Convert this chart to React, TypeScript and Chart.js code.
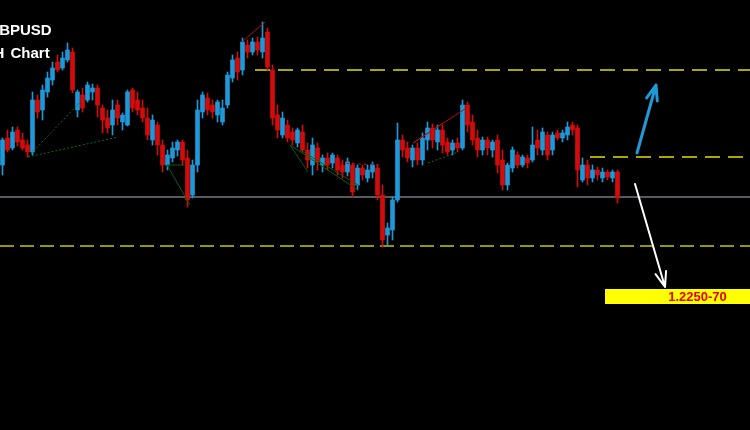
import React, { useEffect, useRef } from "react";
import { Chart, registerables } from "chart.js";

Chart.register(...registerables);

// GBPUSD hourly candles (prices)
const openP = [
  1.2435, 1.2462, 1.2452, 1.2470, 1.2460, 1.2455, 1.2448, 1.2500, 1.2490, 1.2508,
  1.2520, 1.2538, 1.2532, 1.2540, 1.2548, 1.2490, 1.2505, 1.2500, 1.2508, 1.2512,
  1.2492, 1.2482, 1.2475, 1.2495, 1.2478, 1.2475, 1.2510, 1.2500, 1.2492, 1.2482,
  1.2460, 1.2475, 1.2455, 1.2435, 1.2442, 1.2450, 1.2458, 1.2442, 1.2405, 1.2435,
  1.2488, 1.2502, 1.2495, 1.2485, 1.2478, 1.2495, 1.2522, 1.2542, 1.2530, 1.2555,
  1.2548, 1.2558, 1.2548, 1.2568, 1.2530, 1.2485, 1.2465, 1.2475, 1.2468, 1.2457,
  1.2468, 1.2450, 1.2435, 1.2452, 1.2435, 1.2442, 1.2437, 1.2442, 1.2435, 1.2428,
  1.2435, 1.2415, 1.2432, 1.2422, 1.2428, 1.2432, 1.2405, 1.2365, 1.2370, 1.2400,
  1.2460, 1.2452, 1.2440, 1.2452, 1.2440, 1.2460, 1.2472, 1.2458, 1.2470, 1.2458,
  1.2450, 1.2457, 1.2452, 1.2495, 1.2478, 1.2462, 1.2450, 1.2460, 1.2450, 1.2460,
  1.2440, 1.2415, 1.2432, 1.2445, 1.2435, 1.2442, 1.2440, 1.2460, 1.2450, 1.2465,
  1.2450, 1.2467, 1.2462, 1.2465, 1.2475, 1.2472, 1.2420, 1.2435, 1.2422, 1.2430,
  1.2422, 1.2428, 1.2422, 1.2428,
];
const highP = [
  1.2462, 1.2470, 1.2473, 1.2473, 1.2467, 1.2460, 1.2508, 1.2505, 1.2515, 1.2528,
  1.2538, 1.2545, 1.2548, 1.2557, 1.2552, 1.2510, 1.2512, 1.2518, 1.2516, 1.2515,
  1.2495, 1.2490, 1.2500, 1.2500, 1.2487, 1.2510, 1.2512, 1.2508, 1.2500, 1.2492,
  1.2485, 1.2478, 1.2460, 1.2450, 1.2458, 1.2460, 1.2460, 1.2450, 1.2440, 1.2500,
  1.2508, 1.2507, 1.2500, 1.2500, 1.2500, 1.2528, 1.2545, 1.2548, 1.2562, 1.2560,
  1.2562, 1.2563, 1.2578, 1.2572, 1.2535, 1.2495, 1.2488, 1.2480, 1.2472, 1.2472,
  1.2475, 1.2457, 1.2462, 1.2457, 1.2445, 1.2447, 1.2447, 1.2445, 1.2440, 1.2442,
  1.2437, 1.2435, 1.2435, 1.2435, 1.2438, 1.2435, 1.2415, 1.2377, 1.2403, 1.2477,
  1.2465, 1.2458, 1.2455, 1.2457, 1.2467, 1.2478, 1.2476, 1.2475, 1.2475, 1.2462,
  1.2460, 1.2462, 1.2500, 1.2498, 1.2485, 1.2470, 1.2463, 1.2463, 1.2460, 1.2465,
  1.2450, 1.2437, 1.2453, 1.2448, 1.2445, 1.2445, 1.2473, 1.2470, 1.2472, 1.2468,
  1.2468, 1.2470, 1.2470, 1.2478, 1.2478, 1.2475, 1.2442, 1.2440, 1.2435, 1.2433,
  1.2432, 1.2430, 1.2430, 1.2430,
];
const lowP = [
  1.2425, 1.2448, 1.2450, 1.2454, 1.2450, 1.2443, 1.2445, 1.2482, 1.2480, 1.2503,
  1.2515, 1.2528, 1.2530, 1.2538, 1.2507, 1.2483, 1.2488, 1.2498, 1.2500, 1.2483,
  1.2467, 1.2467, 1.2465, 1.2475, 1.2470, 1.2474, 1.2488, 1.2485, 1.2478, 1.2460,
  1.2455, 1.2445, 1.2428, 1.2430, 1.2438, 1.2444, 1.2435, 1.2393, 1.2402, 1.2428,
  1.2482, 1.2485, 1.2482, 1.2478, 1.2475, 1.2492, 1.2518, 1.2520, 1.2525, 1.2542,
  1.2545, 1.2545, 1.2542, 1.2530, 1.2475, 1.2462, 1.2462, 1.2458, 1.2455, 1.2453,
  1.2448, 1.2432, 1.2425, 1.2430, 1.2428, 1.2430, 1.2432, 1.2425, 1.2422, 1.2424,
  1.2403, 1.2410, 1.2420, 1.2418, 1.2422, 1.2400, 1.2353, 1.2355, 1.2360, 1.2398,
  1.2443, 1.2438, 1.2433, 1.2435, 1.2435, 1.2450, 1.2452, 1.2450, 1.2447, 1.2445,
  1.2445, 1.2448, 1.2450, 1.2468, 1.2455, 1.2443, 1.2445, 1.2445, 1.2443, 1.2427,
  1.2410, 1.2410, 1.2428, 1.2432, 1.2433, 1.2432, 1.2438, 1.2445, 1.2445, 1.2440,
  1.2445, 1.2460, 1.2458, 1.2460, 1.2465, 1.2413, 1.2418, 1.2415, 1.2418, 1.2420,
  1.2418, 1.2420, 1.2418, 1.2397,
];
const closeP = [
  1.2460, 1.2450, 1.2468, 1.2458, 1.2452, 1.2448, 1.2500, 1.2488, 1.2510, 1.2522,
  1.2532, 1.2530, 1.2542, 1.2550, 1.2510, 1.2508, 1.2492, 1.2515, 1.2512, 1.2495,
  1.2480, 1.2472, 1.2490, 1.2482, 1.2485, 1.2508, 1.2492, 1.2490, 1.2482, 1.2465,
  1.2480, 1.2455, 1.2435, 1.2445, 1.2452, 1.2458, 1.2440, 1.2400, 1.2435, 1.2490,
  1.2505, 1.2490, 1.2488, 1.2498, 1.2492, 1.2525, 1.2540, 1.2528, 1.2558, 1.2548,
  1.2558, 1.2550, 1.2562, 1.2533, 1.2482, 1.2470, 1.2482, 1.2462, 1.2460, 1.2470,
  1.2450, 1.2440, 1.2455, 1.2438, 1.2442, 1.2435, 1.2445, 1.2430, 1.2428, 1.2438,
  1.2408, 1.2432, 1.2425, 1.2430, 1.2435, 1.2405, 1.2360, 1.2372, 1.2400, 1.2460,
  1.2450, 1.2442, 1.2452, 1.2440, 1.2462, 1.2472, 1.2460, 1.2470, 1.2455, 1.2448,
  1.2457, 1.2452, 1.2495, 1.2475, 1.2460, 1.2450, 1.2460, 1.2452, 1.2458, 1.2435,
  1.2415, 1.2435, 1.2450, 1.2435, 1.2443, 1.2437, 1.2455, 1.2452, 1.2468, 1.2445,
  1.2465, 1.2462, 1.2467, 1.2473, 1.2470, 1.2430, 1.2435, 1.2422, 1.2430, 1.2425,
  1.2428, 1.2423, 1.2428, 1.2402,
];

// horizontal levels
const supportLevel = 1.2403;
const lowerDashLevel = 1.2354;
const upperDashLevel = 1.2530;
const upperDashStart = 50.5;
const midDashLevel = 1.2443;
const midDashStart = 117.5;

// trend lines: [x1, y1, x2, y2]
const greenDotted = [
  [5.1, 1.2443, 15.9, 1.2500],
  [5.1, 1.2443, 23.1, 1.2463],
  [85.1, 1.2437, 91.1, 1.2448],
];
const greenSolid = [
  [32.9, 1.2435, 36.5, 1.2435],
  [32.9, 1.2435, 37.5, 1.2395],
  [57.5, 1.2455, 61.1, 1.2428],
  [57.5, 1.2455, 71.1, 1.2410],
  [59.5, 1.2450, 71.1, 1.2415],
];
const redSolid = [
  [47.9, 1.2558, 52.5, 1.2578],
  [82.1, 1.2457, 93.1, 1.2493],
  [82.1, 1.2457, 88.1, 1.2477],
];
const redDashed = [[67.5, 1.2437, 75.5, 1.2435]];

// forecast arrows: [x1, y1, x2, y2]
const upArrow = [126.9, 1.2447, 130.7, 1.2515];
const downArrow = [126.5, 1.2416, 132.5, 1.2313];

// target box
const targetLabel = "1.2250-70";
const targetBox = [120.5, 1.2311, 149.5, 1.2296];

const titleLine1 = "GBPUSD";
const titleFrame = "4H";
const titleWord = "Chart";

const BLUE = "#1d98d8";
const RED = "#d40b0b";

export default function App() {
  const ref = useRef<HTMLCanvasElement | null>(null);

  useEffect(() => {
    document.body.style.margin = "0";
    document.body.style.background = "#000";
    const canvas = ref.current;
    if (!canvas) return;

    const colors = openP.map((o, i) => (closeP[i] >= o ? BLUE : RED));

    const seg = (s: number[], color: string, width: number, dash: number[], order: number) => ({
      type: "line" as const,
      data: [
        { x: s[0], y: s[1] },
        { x: s[2], y: s[3] },
      ],
      borderColor: color,
      borderWidth: width,
      borderDash: dash,
      pointRadius: 0,
      fill: false,
      tension: 0,
      order,
    });

    const datasets: any[] = [
      seg([-0.5, supportLevel, 149.5, supportLevel], "#565a62", 2, [], 20),
      seg([-0.5, lowerDashLevel, 149.5, lowerDashLevel], "#c9c900", 1.5, [14, 6], 20),
      seg([upperDashStart, upperDashLevel, 149.5, upperDashLevel], "#aaa800", 2, [15, 8], 20),
      seg([midDashStart, midDashLevel, 149.5, midDashLevel], "#aaa800", 2, [15, 8], 20),
      {
        type: "bar",
        data: openP.map((_, i) => ({ x: i, y: [lowP[i], highP[i]] })),
        backgroundColor: colors,
        borderWidth: 0,
        barThickness: 1,
        grouped: false,
        order: 6,
      },
      {
        type: "bar",
        data: openP.map((o, i) => ({ x: i, y: [o, closeP[i]] })),
        backgroundColor: colors,
        borderWidth: 0,
        barThickness: 4,
        minBarLength: 1,
        grouped: false,
        order: 5,
      },
      ...greenDotted.map((s) => seg(s, "#0f6e12", 1, [2, 2], 1)),
      ...greenSolid.map((s) => seg(s, "#0c5e0e", 1, [], 1)),
      ...redSolid.map((s) => seg(s, "#b80f0f", 1, [], 1)),
      ...redDashed.map((s) => seg(s, "#c01010", 1, [3, 3], 1)),
    ];

    const overlay = {
      id: "overlay",
      beforeDraw(chart: any) {
        const { ctx, width, height } = chart;
        ctx.save();
        ctx.fillStyle = "#000";
        ctx.fillRect(0, 0, width, height);
        ctx.restore();
      },
      afterDraw(chart: any) {
        const { ctx } = chart;
        const xs = chart.scales.x;
        const ys = chart.scales.y;
        const px = (v: number) => xs.getPixelForValue(v);
        const py = (v: number) => ys.getPixelForValue(v);

        const arrow = (a: number[], color: string, w: number, head: number) => {
          const x1 = px(a[0]), y1 = py(a[1]), x2 = px(a[2]), y2 = py(a[3]);
          const ang = Math.atan2(y2 - y1, x2 - x1);
          ctx.save();
          ctx.strokeStyle = color;
          ctx.lineWidth = w;
          ctx.lineCap = "round";
          ctx.beginPath();
          ctx.moveTo(x1, y1);
          ctx.lineTo(x2, y2);
          ctx.moveTo(x2, y2);
          ctx.lineTo(x2 - head * Math.cos(ang - 0.35), y2 - head * Math.sin(ang - 0.35));
          ctx.moveTo(x2, y2);
          ctx.lineTo(x2 - head * Math.cos(ang + 0.35), y2 - head * Math.sin(ang + 0.35));
          ctx.stroke();
          ctx.restore();
        };
        arrow(upArrow, "#1e9ad8", 3, 16);
        arrow(downArrow, "#ffffff", 2, 16);

        // target box
        const bx1 = px(targetBox[0]), by1 = py(targetBox[1]);
        const bx2 = px(targetBox[2]), by2 = py(targetBox[3]);
        ctx.save();
        ctx.fillStyle = "#ffff00";
        ctx.fillRect(bx1, by1, bx2 - bx1, by2 - by1);
        ctx.fillStyle = "#e00000";
        ctx.font = "bold 13px 'Liberation Sans', Arial, sans-serif";
        ctx.textAlign = "center";
        ctx.textBaseline = "middle";
        ctx.fillText(targetLabel, (bx1 + bx2) / 2 + 20, (by1 + by2) / 2 + 1);
        ctx.restore();

        // title (cropped on the left, as in the source screenshot)
        ctx.save();
        ctx.fillStyle = "#ffffff";
        ctx.font = "bold 15px 'Liberation Sans', Arial, sans-serif";
        ctx.textBaseline = "alphabetic";
        const gW = ctx.measureText(titleLine1.charAt(0)).width;
        ctx.fillText(titleLine1, -gW - 0.8, 35);
        const fW = ctx.measureText(titleFrame).width;
        ctx.fillText(titleFrame, 4.4 - fW, 58);
        ctx.fillText(titleWord, 10.5, 58);
        ctx.restore();
      },
    };

    const chart = new Chart(canvas, {
      type: "bar",
      data: { datasets },
      options: {
        animation: false,
        responsive: false,
        devicePixelRatio: 1,
        layout: { padding: 0 },
        plugins: { legend: { display: false }, tooltip: { enabled: false } },
        scales: {
          x: { type: "linear", min: -0.5, max: 149.5, display: false, offset: false },
          y: { type: "linear", min: 1.217, max: 1.26, display: false },
        },
      },
      plugins: [overlay],
    } as any);

    return () => chart.destroy();
  }, []);

  return (
    <div style={{ width: 750, height: 430, background: "#000" }}>
      <canvas ref={ref} width={750} height={430} style={{ display: "block" }} />
    </div>
  );
}
